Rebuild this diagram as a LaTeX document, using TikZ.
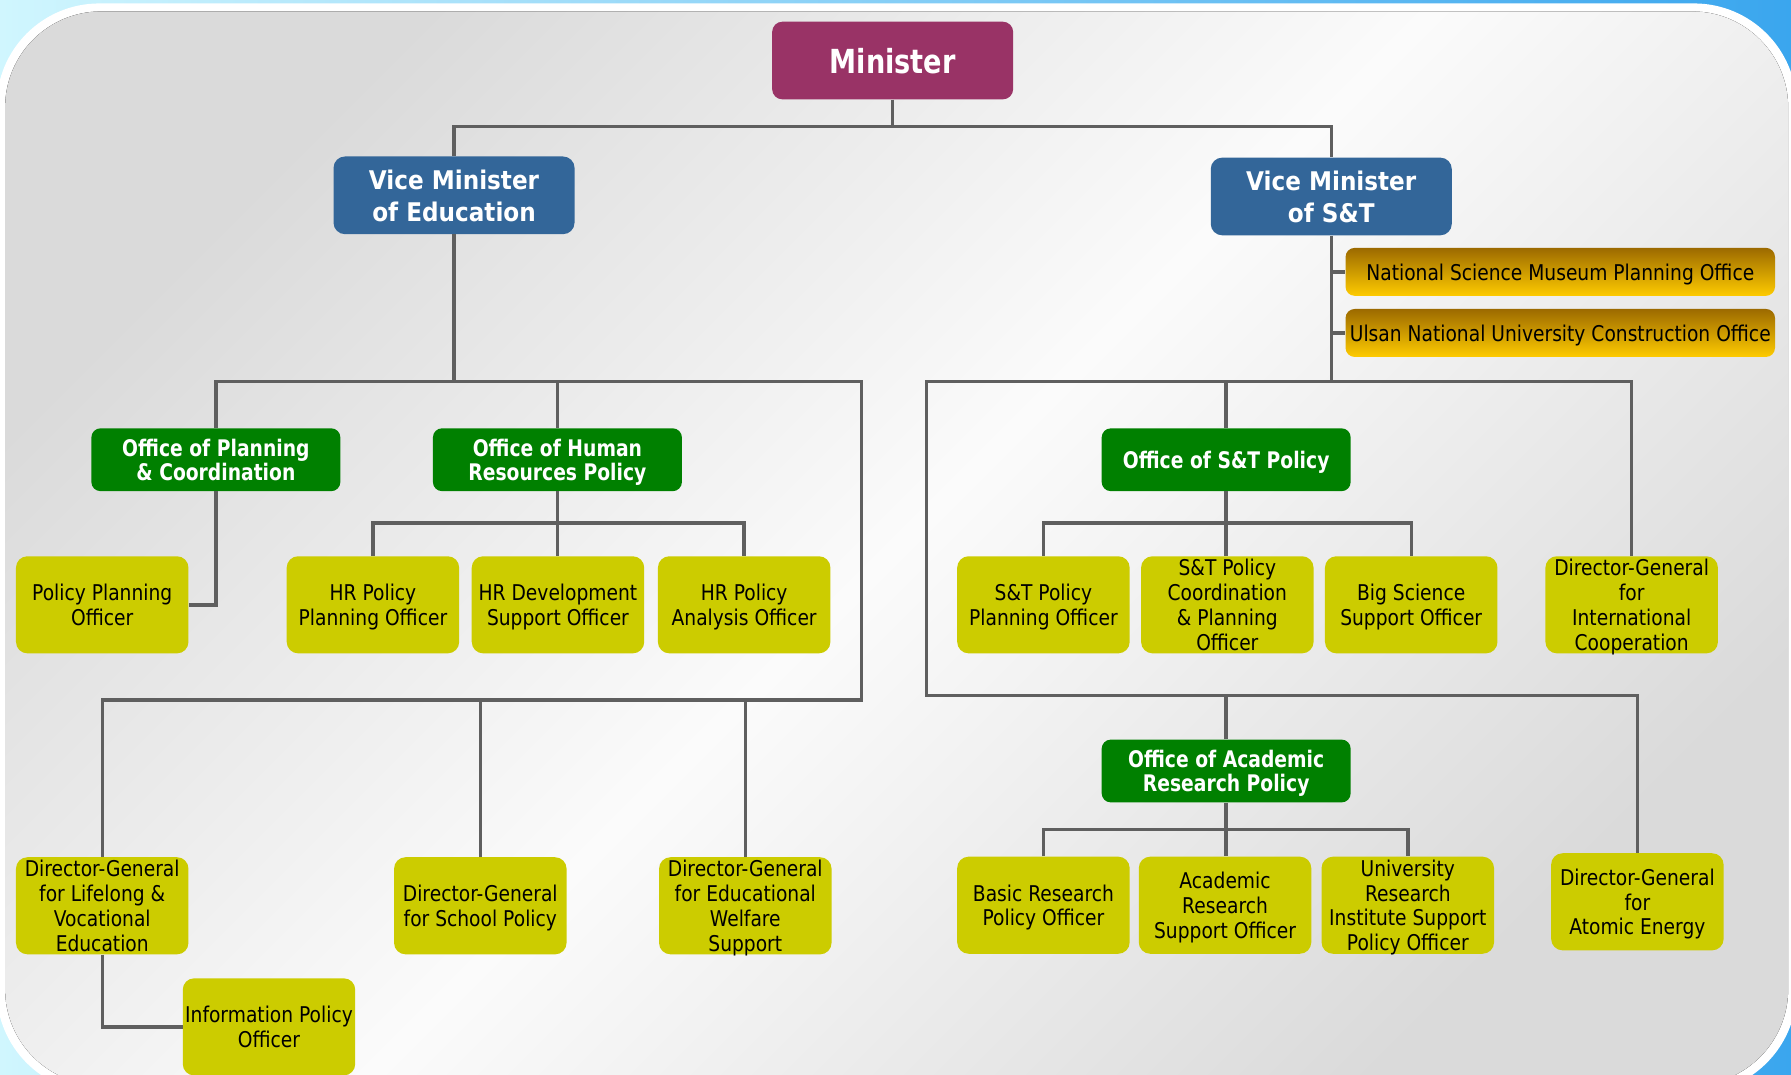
\documentclass[tikz,border=0pt]{standalone}
\usepackage{fontspec}
\setmainfont{DejaVu Sans}[FakeStretch=0.86]
\newfontfamily\headfont{DejaVu Sans}[FakeStretch=0.82]
\newfontfamily\vicefont{DejaVu Sans}[FakeStretch=0.9]
\definecolor{minred}{HTML}{993366}
\definecolor{viceblue}{HTML}{336699}
\definecolor{officegreen}{HTML}{008000}
\definecolor{officeryellow}{HTML}{CCCC00}
\definecolor{planbrown}{HTML}{9C6A00}
\definecolor{plangold}{HTML}{FECB00}
\definecolor{linkgray}{HTML}{5F5F5F}
\definecolor{skylight}{HTML}{D0F6FE}
\definecolor{skydark}{HTML}{3AA6EE}
\definecolor{panelgray}{HTML}{DADADA}
\definecolor{panellight}{HTML}{FBFBFB}
\begin{document}
\begin{tikzpicture}[x=1pt,y=-1pt,
    minbox/.style={fill=minred, text=white, rounded corners=9pt, minimum width=211pt, minimum height=68pt, inner sep=0pt, align=center, text depth=-1pt, font=\headfont\bfseries\fontsize{29}{35}\selectfont},
    vicebox/.style={fill=viceblue, text=white, rounded corners=10pt, minimum width=211pt, minimum height=68pt, inner sep=0pt, align=center, text depth=-1.3pt, font=\vicefont\bfseries\fontsize{22.5}{28}\selectfont},
    officebox/.style={fill=officegreen, text=white, rounded corners=8pt, minimum width=218pt, minimum height=55pt, inner sep=0pt, align=center, text depth=-0.5pt, font=\headfont\bfseries\fontsize{20}{21}\selectfont},
    planbox/.style={top color=planbrown, bottom color=plangold, rounded corners=8pt, minimum width=376pt, minimum height=42pt, inner sep=0pt, text depth=-2.6pt, font=\fontsize{19}{22}\selectfont},
    officerbox/.style={fill=officeryellow, rounded corners=10pt, minimum width=151pt, minimum height=85pt, inner sep=0pt, align=center, text depth=-0.5pt, font=\fontsize{19}{21.8}\selectfont},
    link/.style={draw=linkgray, line width=3pt}]
    \useasboundingbox (0,0) rectangle (1568,941);
    \fill[left color=skylight, right color=skydark] (0,0) rectangle (1568,941);
    \fill[white, rounded corners=90pt] (-3,3) rectangle (1573,957);
    \fill[top color=panelgray, bottom color=panelgray, middle color=panellight, shading angle=45, rounded corners=84pt] (4.5,10) rectangle (1565.5,950);

    \node[minbox] (M) at (781.5,53) {Minister};
    \node[vicebox] (E) at (397.5,171) {Vice Minister\\of Education};
    \node[vicebox] (S) at (1165.5,172) {Vice Minister\\of S\&T};
    \node[planbox] (N1) at (1366,238) {National Science Museum Planning Office};
    \node[planbox] (N2) at (1366,291.5) {Ulsan National University Construction Office};

    \node[officebox] (P) at (189,402.5) {Office of Planning\\\& Coordination};
    \node[officebox] (H) at (488,402.5) {Office of Human\\Resources Policy};
    \node[officebox] (T) at (1073.5,402.5) {Office of S\&T Policy};
    \node[officebox] (R) at (1073.5,675) {Office of Academic\\Research Policy};

    \node[officerbox] (P1) at (89.5,529.5) {Policy Planning\\Officer};
    \node[officerbox] (H1) at (326.5,529.5) {HR Policy\\Planning Officer};
    \node[officerbox] (H2) at (488.5,529.5) {HR Development\\Support Officer};
    \node[officerbox] (H3) at (651.5,529.5) {HR Policy\\Analysis Officer};
    \node[officerbox] (T1) at (913.5,529.5) {S\&T Policy\\Planning Officer};
    \node[officerbox] (T2) at (1074.5,529.5) {S\&T Policy\\Coordination\\\& Planning\\Officer};
    \node[officerbox] (T3) at (1235.5,529.5) {Big Science\\Support Officer};
    \node[officerbox] (G1) at (1428.5,529.5) {Director-General\\for\\International\\Cooperation};

    \node[officerbox] (L) at (89.5,793) {Director-General\\for Lifelong \&\\Vocational\\Education};
    \node[officerbox] (D1) at (420.5,793) {Director-General\\for School Policy};
    \node[officerbox] (D2) at (652.5,793) {Director-General\\for Educational\\Welfare\\Support};
    \node[officerbox] (I) at (235.5,899) {Information Policy\\Officer};
    \node[officerbox] (R1) at (913.5,792.5) {Basic Research\\Policy Officer};
    \node[officerbox] (R2) at (1072.5,792.5) {Academic\\Research\\Support Officer};
    \node[officerbox] (R3) at (1232.5,792.5) {University\\Research\\Institute Support\\Policy Officer};
    \node[officerbox] (G2) at (1433.5,789.5) {Director-General\\for\\Atomic Energy};

    \coordinate (m1) at (781.5,111);
    \coordinate (e1) at (397.5,334);
    \coordinate (e2) at (754,334);
    \coordinate (e3) at (754,613);
    \coordinate (h1) at (488,458);
    \coordinate (s1) at (1165.5,334);
    \coordinate (s2) at (811,334);
    \coordinate (s3) at (811,609);
    \coordinate (t1) at (1073.5,458);
    \coordinate (r1) at (1073.5,726);

    \draw[link] (M) -- (m1);
    \draw[link] (E.north) |- (m1) -| (S.north);

    \draw[link] (E) -- (e1);
    \draw[link] (P.north) |- (e2) -- (e3) -| (L.north);
    \draw[link] (H.north) -- (H.north |- e1);
    \draw[link] (D1.north) -- (D1.north |- e3);
    \draw[link] (D2.north) -- (D2.north |- e3);
    \draw[link] (P.south) |- (P1.east);
    \draw[link] (H.south) -- (H.south |- H2.north);
    \draw[link] (H1.north) |- (h1) -| (H3.north);
    \draw[link] (L.south) |- (I.west);

    \draw[link] (S) -- (s1);
    \draw[link] (S.south |- N1.west) -- (N1.west);
    \draw[link] (S.south |- N2.west) -- (N2.west);
    \draw[link] (G1.north) |- (s2) -- (s3) -| (G2.north);
    \draw[link] (T.north) -- (T.north |- s2);
    \draw[link] (R.north) -- (R.north |- s3);
    \draw[link] (T.south) -- (T.south |- T2.north);
    \draw[link] (T1.north) |- (t1) -| (T3.north);
    \draw[link] (R.south) -- (R.south |- R2.north);
    \draw[link] (R1.north) |- (r1) -| (R3.north);
\end{tikzpicture}
\end{document}
